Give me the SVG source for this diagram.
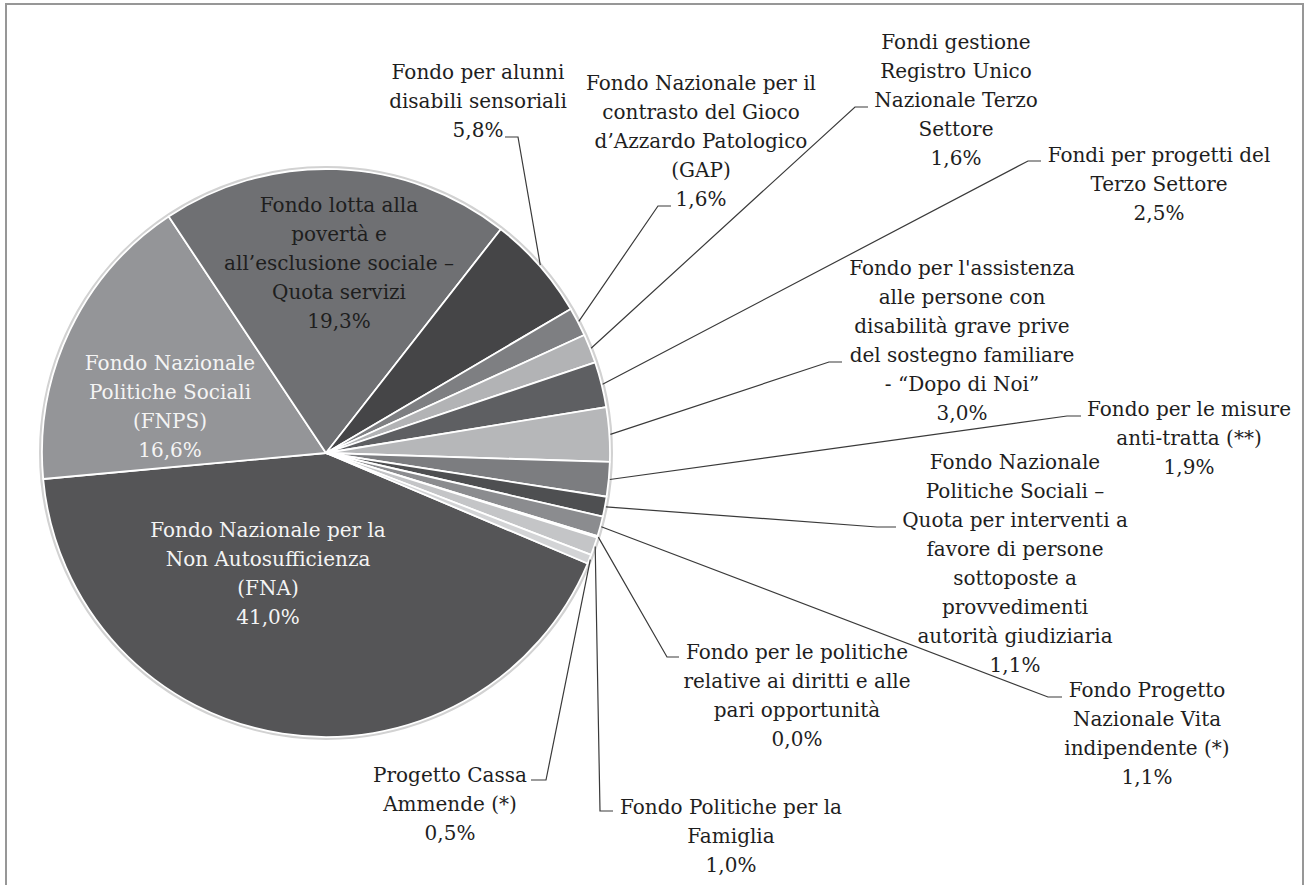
<svg xmlns="http://www.w3.org/2000/svg" width="1306" height="885" viewBox="0 0 1306 885">
<style>
.bg{fill:#ffffff}
.frame{fill:none;stroke:#979797;stroke-width:2}
.s{stroke:#ffffff;stroke-width:1.8;stroke-linejoin:round}
.halo{fill:none;stroke:#d2d2d2;stroke-width:3}
.ld{fill:none;stroke:#3a3a3a;stroke-width:1.2}
.t{font-family:"DejaVu Serif","Liberation Serif",serif;font-size:20px;fill:#1e1e1e;text-anchor:middle}
.w{fill:#f4f4f4}
</style>
<rect class="bg" x="0" y="0" width="1306" height="885"/>
<rect class="frame" x="6" y="4" width="1297" height="900"/>

<g id="pie">
<circle class="halo" cx="326" cy="453" r="285.5"/>
<path id="s-fna" class="s" fill="#555557" d="M326,453 L587.65,563.48 A284,284 0 0 1 43.19,478.99 Z"/>
<path id="s-fnps" class="s" fill="#949598" d="M326,453 L43.19,478.99 A284,284 0 0 1 168.69,216.54 Z"/>
<path id="s-lotta" class="s" fill="#6f7073" d="M326,453 L168.69,216.54 A284,284 0 0 1 500.80,229.18 Z"/>
<path id="s-alunni" class="s" fill="#454547" d="M326,453 L500.80,229.18 A284,284 0 0 1 570.75,308.96 Z"/>
<path id="s-gap" class="s" fill="#7e7f82" d="M326,453 L570.75,308.96 A284,284 0 0 1 584.35,335.05 Z"/>
<path id="s-runts" class="s" fill="#b2b3b5" d="M326,453 L584.35,335.05 A284,284 0 0 1 595.18,362.40 Z"/>
<path id="s-progetti" class="s" fill="#5e5f62" d="M326,453 L595.18,362.40 A284,284 0 0 1 606.25,407.02 Z"/>
<path id="s-dopo" class="s" fill="#b6b7b9" d="M326,453 L606.25,407.02 A284,284 0 0 1 609.86,461.97 Z"/>
<path id="s-tratta" class="s" fill="#7c7d80" d="M326,453 L609.86,461.97 A284,284 0 0 1 606.62,496.74 Z"/>
<path id="s-quota" class="s" fill="#4e4f51" d="M326,453 L606.62,496.74 A284,284 0 0 1 602.79,516.59 Z"/>
<path id="s-vita" class="s" fill="#8b8c8f" d="M326,453 L602.79,516.59 A284,284 0 0 1 597.56,536.13 Z"/>
<path id="s-pari" class="s" fill="#a3a4a7" d="M326,453 L597.56,536.13 A284,284 0 0 1 597.13,537.55 Z"/>
<path id="s-famiglia" class="s" fill="#c4c5c7" d="M326,453 L597.13,537.55 A284,284 0 0 1 591.09,554.90 Z"/>
<path id="s-cassa" class="s" fill="#d3d4d6" d="M326,453 L591.09,554.90 A284,284 0 0 1 587.65,563.48 Z"/>
</g>

<g id="connectors">
<polyline class="ld" points="540.3,265.1 518,137 505,137"/>
<polyline class="ld" points="578.8,321.4 658,206 671,206"/>
<polyline class="ld" points="591.1,348.2 855,107 868,107"/>
<polyline class="ld" points="602.6,384.3 1028,161 1041,161"/>
<polyline class="ld" points="610.4,434.4 829,362 842,362"/>
<polyline class="ld" points="609.8,479.5 1067,416 1081,416"/>
<polyline class="ld" points="605.9,506.9 877,527 896,527"/>
<polyline class="ld" points="601.3,526.7 1048,697 1062,697"/>
<polyline class="ld" points="598.3,537.1 667,657 679,657"/>
<polyline class="ld" points="595.2,546.6 600,811 613,811"/>
<polyline class="ld" points="590.3,559.6 546,780 531,780"/>
</g>

<g id="label-lotta"><text class="t" x="339" y="212"><tspan x="339">Fondo lotta alla</tspan><tspan x="339" dy="29">povertà e</tspan><tspan x="339" dy="29">all’esclusione sociale –</tspan><tspan x="339" dy="29">Quota servizi</tspan><tspan x="339" dy="29">19,3%</tspan></text></g>
<g id="label-fnps"><text class="t w" x="170" y="370"><tspan x="170">Fondo Nazionale</tspan><tspan x="170" dy="29">Politiche Sociali</tspan><tspan x="170" dy="29">(FNPS)</tspan><tspan x="170" dy="29">16,6%</tspan></text></g>
<g id="label-fna"><text class="t w" x="268" y="537"><tspan x="268">Fondo Nazionale per la</tspan><tspan x="268" dy="29">Non Autosufficienza</tspan><tspan x="268" dy="29">(FNA)</tspan><tspan x="268" dy="29">41,0%</tspan></text></g>
<g id="label-alunni"><text class="t" x="478" y="79"><tspan x="478">Fondo per alunni</tspan><tspan x="478" dy="29">disabili sensoriali</tspan><tspan x="478" dy="29">5,8%</tspan></text></g>
<g id="label-gap"><text class="t" x="701" y="90"><tspan x="701">Fondo Nazionale per il</tspan><tspan x="701" dy="29">contrasto del Gioco</tspan><tspan x="701" dy="29">d’Azzardo Patologico</tspan><tspan x="701" dy="29">(GAP)</tspan><tspan x="701" dy="29">1,6%</tspan></text></g>
<g id="label-runts"><text class="t" x="956" y="49"><tspan x="956">Fondi gestione</tspan><tspan x="956" dy="29">Registro Unico</tspan><tspan x="956" dy="29">Nazionale Terzo</tspan><tspan x="956" dy="29">Settore</tspan><tspan x="956" dy="29">1,6%</tspan></text></g>
<g id="label-progetti"><text class="t" x="1159" y="162"><tspan x="1159">Fondi per progetti del</tspan><tspan x="1159" dy="29">Terzo Settore</tspan><tspan x="1159" dy="29">2,5%</tspan></text></g>
<g id="label-dopo"><text class="t" x="962" y="275"><tspan x="962">Fondo per l'assistenza</tspan><tspan x="962" dy="29">alle persone con</tspan><tspan x="962" dy="29">disabilità grave prive</tspan><tspan x="962" dy="29">del sostegno familiare</tspan><tspan x="962" dy="29">- “Dopo di Noi”</tspan><tspan x="962" dy="29">3,0%</tspan></text></g>
<g id="label-tratta"><text class="t" x="1189" y="416"><tspan x="1189">Fondo per le misure</tspan><tspan x="1189" dy="29">anti-tratta (**)</tspan><tspan x="1189" dy="29">1,9%</tspan></text></g>
<g id="label-quota"><text class="t" x="1015" y="469"><tspan x="1015">Fondo Nazionale</tspan><tspan x="1015" dy="29">Politiche Sociali –</tspan><tspan x="1015" dy="29">Quota per interventi a</tspan><tspan x="1015" dy="29">favore di persone</tspan><tspan x="1015" dy="29">sottoposte a</tspan><tspan x="1015" dy="29">provvedimenti</tspan><tspan x="1015" dy="29">autorità giudiziaria</tspan><tspan x="1015" dy="29">1,1%</tspan></text></g>
<g id="label-vita"><text class="t" x="1147" y="697"><tspan x="1147">Fondo Progetto</tspan><tspan x="1147" dy="29">Nazionale Vita</tspan><tspan x="1147" dy="29">indipendente (*)</tspan><tspan x="1147" dy="29">1,1%</tspan></text></g>
<g id="label-pari"><text class="t" x="797" y="659"><tspan x="797">Fondo per le politiche</tspan><tspan x="797" dy="29">relative ai diritti e alle</tspan><tspan x="797" dy="29">pari opportunità</tspan><tspan x="797" dy="29">0,0%</tspan></text></g>
<g id="label-famiglia"><text class="t" x="731" y="814"><tspan x="731">Fondo Politiche per la</tspan><tspan x="731" dy="29">Famiglia</tspan><tspan x="731" dy="29">1,0%</tspan></text></g>
<g id="label-cassa"><text class="t" x="450" y="782"><tspan x="450">Progetto Cassa</tspan><tspan x="450" dy="29">Ammende (*)</tspan><tspan x="450" dy="29">0,5%</tspan></text></g>
</svg>
